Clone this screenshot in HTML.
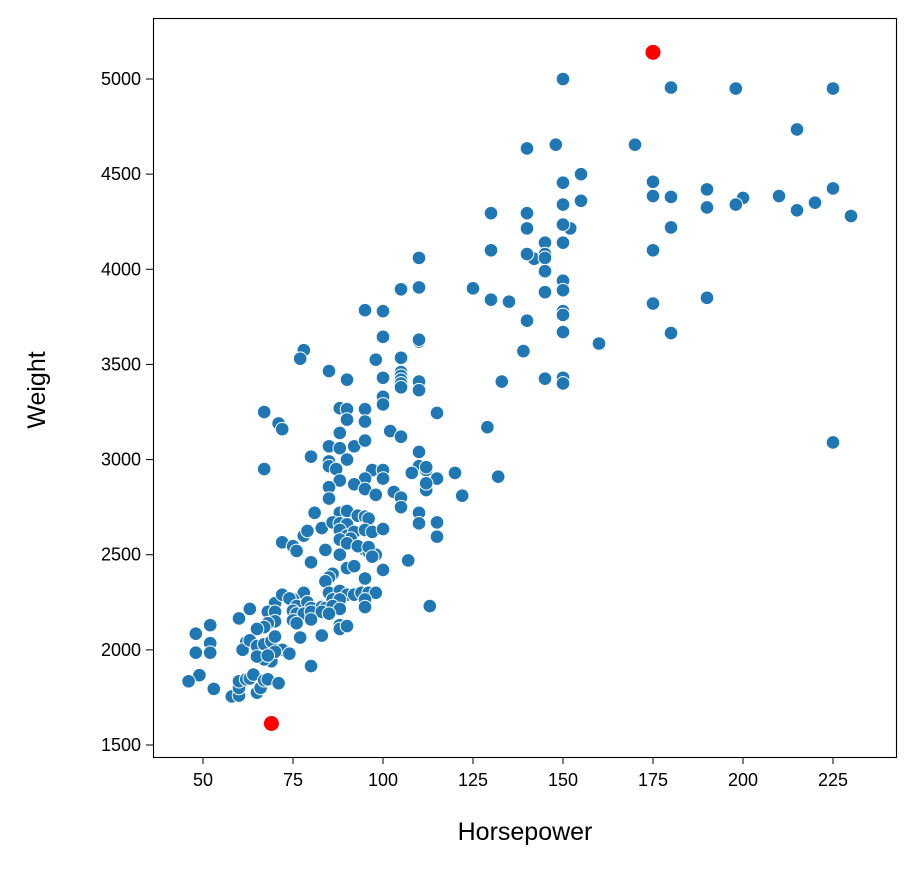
<!DOCTYPE html>
<html><head><meta charset="utf-8"><style>
body{margin:0;background:#fff;}
svg text{font-family:"Liberation Sans","DejaVu Sans",sans-serif;fill:#000;}
</style></head><body>
<svg id="chart" width="916" height="869" xmlns="http://www.w3.org/2000/svg">
<rect x="0" y="0" width="916" height="869" fill="#fff"/>
<g id="marks"></g>
<g id="axes"></g>
<rect x="153.5" y="18.5" width="743" height="739" fill="none" stroke="#000" stroke-width="1.1"/>
<text x="525" y="840" font-size="25" text-anchor="middle">Horsepower</text>
<text x="0" y="0" font-size="25" text-anchor="middle" transform="translate(45,390) rotate(-90)">Weight</text>
</svg>
<script>
const xTicks=[50,75,100,125,150,175,200,225];
const yTicks=[1500,2000,2500,3000,3500,4000,4500,5000];
const hp=[150,180,198,225,215,140,148,170,155,150,175,190,225,175,180,200,210,150,155,190,198,215,220,230,130,140,145,150,152,150,140,142,145,145,130,140,175,180,110,145,150,150,145,125,105,110,130,135,175,190,150,150,140,150,180,160,139,95,100,100,110,110,78,77,98,105,105,105,105,105,105,110,110,100,85,90,133,145,150,150,67,100,100,95,88,90,115,71,72,95,88,90,102,105,129,225,67,85,88,92,95,80,85,85,90,87,97,100,110,110,112,112,120,108,115,100,95,88,92,85,95,103,105,112,112,132,122,98,85,81,88,90,93,95,96,105,110,110,115,115,83,86,88,90,88,90,92,95,97,100,91,88,90,78,79,72,75,76,84,88,95,96,97,98,93,96,107,80,86,85,90,92,95,97,100,84,85,88,90,92,86,88,94,96,98,95,95,113,78,75,70,72,74,76,79,80,83,84,86,88,68,70,75,76,78,80,83,85,88,88,90,83,77,80,75,76,70,68,67,65,63,60,52,48,52,48,52,62,61,63,65,67,69,70,72,74,69,70,66,67,65,68,80,49,46,53,58,60,60,60,62,63,64,65,66,67,68,71];
const weight=[5000,4955,4950,4950,4735,4635,4655,4655,4500,4455,4460,4420,4425,4385,4380,4375,4385,4340,4360,4325,4340,4310,4350,4280,4295,4295,4140,4140,4215,4235,4215,4055,4080,4060,4100,4080,4100,4220,4060,3990,3940,3890,3880,3900,3895,3905,3840,3830,3820,3850,3780,3760,3730,3670,3665,3610,3570,3785,3780,3645,3620,3630,3575,3530,3525,3535,3460,3440,3420,3400,3380,3410,3365,3430,3465,3420,3410,3425,3430,3400,3250,3330,3290,3265,3270,3265,3245,3190,3160,3200,3140,3210,3150,3120,3170,3090,2950,3070,3060,3070,3100,3015,2990,2965,3000,2950,2945,2945,3040,2965,2945,2960,2930,2930,2900,2900,2900,2890,2870,2855,2845,2830,2800,2840,2875,2910,2810,2815,2795,2720,2720,2730,2705,2700,2690,2750,2720,2665,2670,2595,2640,2670,2665,2660,2630,2600,2620,2630,2620,2635,2585,2580,2560,2600,2625,2565,2545,2520,2525,2500,2525,2515,2500,2500,2545,2540,2470,2460,2400,2380,2430,2440,2375,2490,2420,2360,2300,2310,2290,2290,2265,2265,2300,2300,2300,2265,2225,2230,2300,2265,2245,2290,2270,2230,2250,2220,2225,2220,2230,2215,2200,2200,2205,2190,2190,2200,2200,2190,2130,2110,2125,2075,2065,2160,2155,2140,2150,2140,2120,2110,2215,2165,2130,2085,2035,1985,1985,2040,2000,2050,2020,2030,2045,2070,2000,1980,1940,1990,1960,1950,1965,1970,1915,1867,1835,1795,1755,1760,1800,1835,1845,1850,1870,1775,1800,1840,1845,1825];
const hlHp=[175,69];
const hlWeight=[5140,1613];
const NS="http://www.w3.org/2000/svg";
function xs(v){return 203+(v-50)*3.6;}
function ys(v){return 745-(v-1500)*(666/3500);}
const marks=document.getElementById('marks');
for(let i=0;i<hp.length;i++){
  const c=document.createElementNS(NS,'circle');
  c.setAttribute('cx',xs(hp[i]));c.setAttribute('cy',ys(weight[i]));c.setAttribute('r',6.8);
  c.setAttribute('fill','#1f77b4');c.setAttribute('stroke','#fff');c.setAttribute('stroke-width',1);
  
  
  marks.appendChild(c);
}
for(let i=0;i<hlHp.length;i++){
  const c=document.createElementNS(NS,'circle');
  c.setAttribute('cx',xs(hlHp[i]));c.setAttribute('cy',ys(hlWeight[i]));c.setAttribute('r',7.5);
  c.setAttribute('fill','#ff0000');
  
  
  marks.appendChild(c);
}
const axes=document.getElementById('axes');
xTicks.forEach(t=>{
  const l=document.createElementNS(NS,'line');
  l.setAttribute('x1',xs(t));l.setAttribute('x2',xs(t));l.setAttribute('y1',757);l.setAttribute('y2',764);l.setAttribute('stroke','#000');
  
  
  axes.appendChild(l);
  const tx=document.createElementNS(NS,'text');
  tx.setAttribute('x',xs(t));tx.setAttribute('y',786);tx.setAttribute('font-size',18);tx.setAttribute('text-anchor','middle');
  tx.textContent=t;
  
  
  axes.appendChild(tx);
});
yTicks.forEach(t=>{
  const l=document.createElementNS(NS,'line');
  l.setAttribute('x1',146);l.setAttribute('x2',153);l.setAttribute('y1',ys(t));l.setAttribute('y2',ys(t));l.setAttribute('stroke','#000');
  
  
  axes.appendChild(l);
  const tx=document.createElementNS(NS,'text');
  tx.setAttribute('x',141);tx.setAttribute('y',ys(t)+6);tx.setAttribute('font-size',18);tx.setAttribute('text-anchor','end');
  tx.textContent=t;
  
  
  axes.appendChild(tx);
});
</script>
</body></html>
